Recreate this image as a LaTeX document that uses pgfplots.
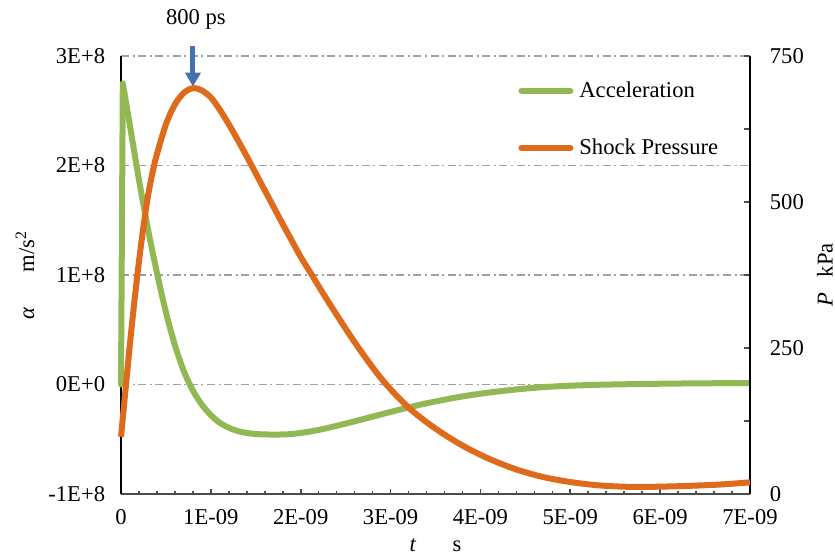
\documentclass[border=0pt]{standalone}
\usepackage{fontspec}
\setmainfont{Liberation Serif}
\usepackage{pgfplots}
\pgfplotsset{compat=1.18}
\usetikzlibrary{arrows.meta}

\definecolor{accg}{RGB}{146,184,84}
\definecolor{presso}{RGB}{222,106,28}
\definecolor{arrowb}{RGB}{66,114,178}
\definecolor{gridg}{RGB}{160,160,160}

\begin{document}
\fontsize{11.3bp}{13bp}\selectfont
\begin{tikzpicture}
\begin{axis}[
  at={(60.5bp,31bp)}, anchor=south west,
  scale only axis, width=314.5bp, height=219bp,
  xmin=0, xmax=7, ymin=-1, ymax=3,
  clip=false,
  axis x line*=bottom, axis y line*=left,
  x axis line style={-, draw=black!70, line width=1bp},
  y axis line style={-, draw=black, line width=0.8bp},
  xtick={0,1,2,3,4,5,6,7},
  xticklabels={0,1E-09,2E-09,3E-09,4E-09,5E-09,6E-09,7E-09},
  minor x tick num=4,
  xtick align=inside,
  major tick length=2.5bp, minor tick length=1.5bp,
  xtick style={draw=black!70, line width=0.8bp},
  ytick={-1,0,1,2,3},
  yticklabels={-1E+8,0E+0,1E+8,2E+8,3E+8},
  ytick style={draw=none},
  ymajorgrids,
  major grid style={gridg, line width=0.9bp, dash pattern=on 4bp off 1.8bp on 1bp off 1.8bp},
  xticklabel style={yshift=-4bp},
  yticklabel style={xshift=-4bp},
  ylabel={\textit{α}\hspace{1.55em}m/s\textsuperscript{2}},
  ylabel style={at={(rel axis cs:-0.1526,0.5)}, anchor=center},
  xlabel={\textit{t}\hspace{1.6em}s},
  xlabel style={at={(rel axis cs:0.5,-0.1324)}, anchor=base},
]
\addplot[accg, line width=3bp, line cap=round] coordinates {(0,0) (0.02,2.75)};
\addplot[accg, line width=3bp, smooth, tension=0.5, line join=round] coordinates {
(0.02,2.75) (0.1,2.36) (0.2,1.87) (0.3,1.42) (0.4,1.02) (0.5,0.66) (0.6,0.36)
(0.7,0.12) (0.8,-0.055) (0.9,-0.185) (1.0,-0.28) (1.1,-0.35) (1.2,-0.395)
(1.3,-0.425) (1.4,-0.443) (1.5,-0.452) (1.6,-0.456) (1.75,-0.457) (1.9,-0.452)
(2.1,-0.43) (2.3,-0.397) (2.5,-0.357) (2.7,-0.315) (2.9,-0.272) (3.1,-0.23)
(3.3,-0.19) (3.5,-0.155) (3.7,-0.123) (3.9,-0.096) (4.1,-0.073) (4.4,-0.045)
(4.7,-0.024) (5.0,-0.011) (5.3,-0.003) (5.6,0.002) (6.0,0.007) (6.5,0.011) (7.0,0.013)
};
\draw[arrowb, line width=2.5bp, -{Triangle[width=7.5bp,length=7bp]}] (axis cs:0.801,3.09) -- (axis cs:0.801,2.72);
\node at (axis cs:0.834,3.33) {800 ps};
\end{axis}

\begin{axis}[
  at={(60.5bp,31bp)}, anchor=south west,
  scale only axis, width=314.5bp, height=219bp,
  xmin=0, xmax=7, ymin=0, ymax=750,
  clip=false,
  axis x line=none, axis y line*=right,
  y axis line style={-, draw=black, line width=0.8bp},
  ytick={0,125,250,375,500,625,750},
  yticklabels={0,,250,,500,,750},
  ytick align=inside, major tick length=3bp,
  ytick style={draw=black!70, line width=0.8bp},
  yticklabel style={xshift=6bp},
  ylabel={\textit{P}\hspace{0.7em}kPa},
  ylabel style={at={(rel axis cs:1.119,0.5)}, anchor=center},
  legend cell align=left,
  legend image code/.code={\draw[#1, line cap=round] (0bp,0bp) -- (24.5bp,0bp);},
  legend style={draw=none, fill=none, at={(rel axis cs:0.6312,0.943)}, anchor=north west,
    inner xsep=0pt, inner ysep=0pt, row sep=19bp, column sep=3bp,
    nodes={inner sep=0pt, text depth=0.15em}},
]
\addlegendimage{accg, line width=3bp}
\addlegendentry{Acceleration}
\addplot[presso, line width=3bp, smooth, tension=0.5, line join=round] coordinates {
(0,98) (0.05,178) (0.1,258) (0.15,331) (0.2,398) (0.25,458) (0.3,510) (0.35,550)
(0.4,582) (0.5,633) (0.6,667) (0.7,687) (0.8,695) (0.9,691) (1.0,679) (1.1,658)
(1.2,633) (1.3,606) (1.4,578) (1.5,549) (1.6,520) (1.7,491) (1.8,462) (1.9,434)
(2.0,406) (2.12,376) (2.3,331) (2.6,260) (2.9,197) (3.2,148) (3.5,112) (3.8,83)
(4.1,60) (4.4,42) (4.7,29) (5.0,20.5) (5.3,15) (5.6,12.5) (5.9,12.3)
(6.3,13.8) (6.7,16.5) (7.0,20)
};
\addlegendentry{Shock Pressure}
\end{axis}
\pgfresetboundingbox
\useasboundingbox (0,0) rectangle (417.5bp,278bp);
\end{tikzpicture}
\end{document}
